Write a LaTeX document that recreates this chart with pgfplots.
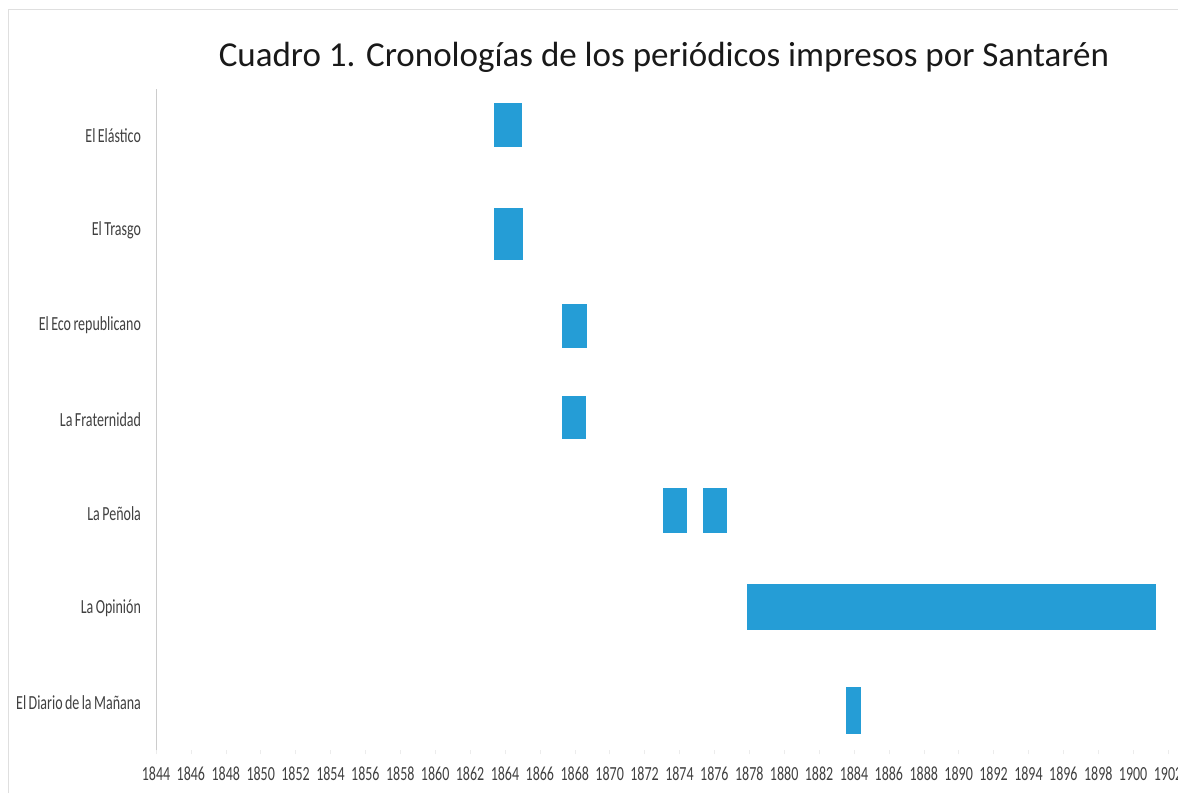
\documentclass[border=0pt]{standalone}
\usepackage{pgfplots}
\pgfplotsset{compat=1.18}
\usepackage{fontspec}
\setmainfont{Carlito}
\newfontfamily\cond[FakeStretch=0.7]{Carlito}
\definecolor{barblue}{RGB}{37,157,214}
\newcommand{\ylabfont}{\cond\fontsize{10}{11}\selectfont\spaceskip=0.12em\relax}
\begin{document}
\begin{tikzpicture}
\begin{axis}[
  at={(78pt,21.375pt)}, anchor=south west,
  scale only axis, width=506pt, height=330.75pt,
  xmin=1844, xmax=1902, ymin=0.5, ymax=7.5,
  axis x line*=bottom, axis y line*=left,
  axis line style={-},
  x axis line style={draw=none},
  y axis line style={draw=gray!40},
  xtick={1844,1846,...,1902},
  xticklabel style={font=\cond\fontsize{10}{11}\selectfont, text=black!75, yshift=-3pt},
  /pgf/number format/assume math mode=true,
  /pgf/number format/set thousands separator={},
  xtick style={draw=gray!15},
  major tick length=2pt,
  tick align=outside,
  ytick={1,2,3,4,5,6,7},
  yticklabels={El Diario de la Mañana, La Opinión, La Peñola, La Fraternidad, El Eco republicano, El Trasgo, El Elástico},
  yticklabel style={font=\ylabfont, text=black!75, xshift=-2pt},
  ytick style={draw=none},
  clip=false,
]
% El Elastico
\addplot[fill=barblue, draw=none] coordinates {(1863.4,6.884) (1865.0,6.884) (1865.0,7.349) (1863.4,7.349)} -- cycle;
% El Trasgo
\addplot[fill=barblue, draw=none] coordinates {(1863.4,5.688) (1865.03,5.688) (1865.03,6.238) (1863.4,6.238)} -- cycle;
% El Eco republicano
\addplot[fill=barblue, draw=none] coordinates {(1867.27,4.757) (1868.70,4.757) (1868.70,5.222) (1867.27,5.222)} -- cycle;
% La Fraternidad
\addplot[fill=barblue, draw=none] coordinates {(1867.27,3.794) (1868.64,3.794) (1868.64,4.249) (1867.27,4.249)} -- cycle;
% La Penola (two periods)
\addplot[fill=barblue, draw=none] coordinates {(1873.05,2.799) (1874.43,2.799) (1874.43,3.275) (1873.05,3.275)} -- cycle;
\addplot[fill=barblue, draw=none] coordinates {(1875.35,2.799) (1876.72,2.799) (1876.72,3.275) (1875.35,3.275)} -- cycle;
% La Opinion
\addplot[fill=barblue, draw=none] coordinates {(1877.87,1.772) (1901.31,1.772) (1901.31,2.259) (1877.87,2.259)} -- cycle;
% El Diario de la Manana
\addplot[fill=barblue, draw=none] coordinates {(1883.54,0.672) (1884.40,0.672) (1884.40,1.169) (1883.54,1.169)} -- cycle;
\end{axis}
\node[font=\fontsize{17.5}{20}\selectfont, text=black!90] at (332pt,368pt) {Cuadro 1. Cronologías de los periódicos impresos por Santarén};
\draw[gray!25, line width=0.5pt] (4pt,0pt) -- (4pt,391.5pt) -- (589pt,391.5pt);
\pgfresetboundingbox
\useasboundingbox (0,0) rectangle (589pt,396.5pt);
\end{tikzpicture}
\end{document}
